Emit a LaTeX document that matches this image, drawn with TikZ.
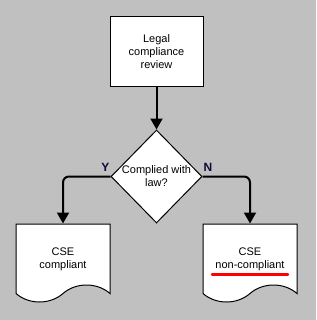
\documentclass[tikz,border=0pt]{standalone}
\usepackage{fontspec}
\setmainfont{Liberation Sans}
\usetikzlibrary{arrows.meta,positioning,shapes.geometric,shapes.symbols,calc}
\definecolor{pagegray}{HTML}{C0C0C0}
\definecolor{labelnavy}{HTML}{0A0A3C}

\begin{document}
\begin{tikzpicture}[
  x=1pt,y=-1pt,
  >={Triangle[width=12pt,length=11pt]},
  process/.style={draw,line width=1pt,fill=white,align=center,
    minimum width=93pt,minimum height=70pt,font=\fontsize{11}{13}\selectfont},
  decide/.style={draw,diamond,line width=1pt,fill=white,
    minimum width=91pt,minimum height=93pt,inner sep=0pt},
  outcome/.style={draw,tape,tape bend top=none,tape bend bottom=in and out,
    tape bend height=17pt,line width=1pt,fill=white,align=center,
    minimum width=94pt,minimum height=78pt,text height=31pt,text depth=2.3pt,
    font=\fontsize{11}{13}\selectfont},
  flow/.style={->,line width=2pt,rounded corners=6pt},
  branch/.style={font=\bfseries\fontsize{12}{14}\selectfont,text=labelnavy,inner sep=1pt}
]
  \fill[pagegray] (0,0) rectangle (316,320);
  \useasboundingbox (0,0) rectangle (316,320);

  \node[process] (review) at (156.5,52) {Legal\\compliance\\review};
  \node[decide,below=42pt of review] (decision) {};
  \node[align=center,font=\fontsize{11}{13}\selectfont,inner sep=0pt]
    (question) at (decision) {Complied with\\law?};
  \node[outcome,below left=0pt and 46pt of decision.south] (compliant) {CSE\\compliant};
  \node[outcome,below right=0pt and 46pt of decision.south] (noncompliant) {CSE\\non-compliant};

  \node[branch,anchor=south east] (yes) at ($(decision.west)+(0,-4)$) {Y};
  \node[branch,anchor=south west] (no) at ($(decision.east)+(0,-4)$) {N};

  \draw[flow] (review) -- (decision);
  \draw[flow] (decision.west) -| (compliant.north);
  \draw[flow] (decision.east) -| (noncompliant.north);

  % red mark under the second line
  \draw[red,line width=2.5pt,line cap=round]
    ($(noncompliant.north)+(-38,51)$) -- ++(76,0);
\end{tikzpicture}
\end{document}
